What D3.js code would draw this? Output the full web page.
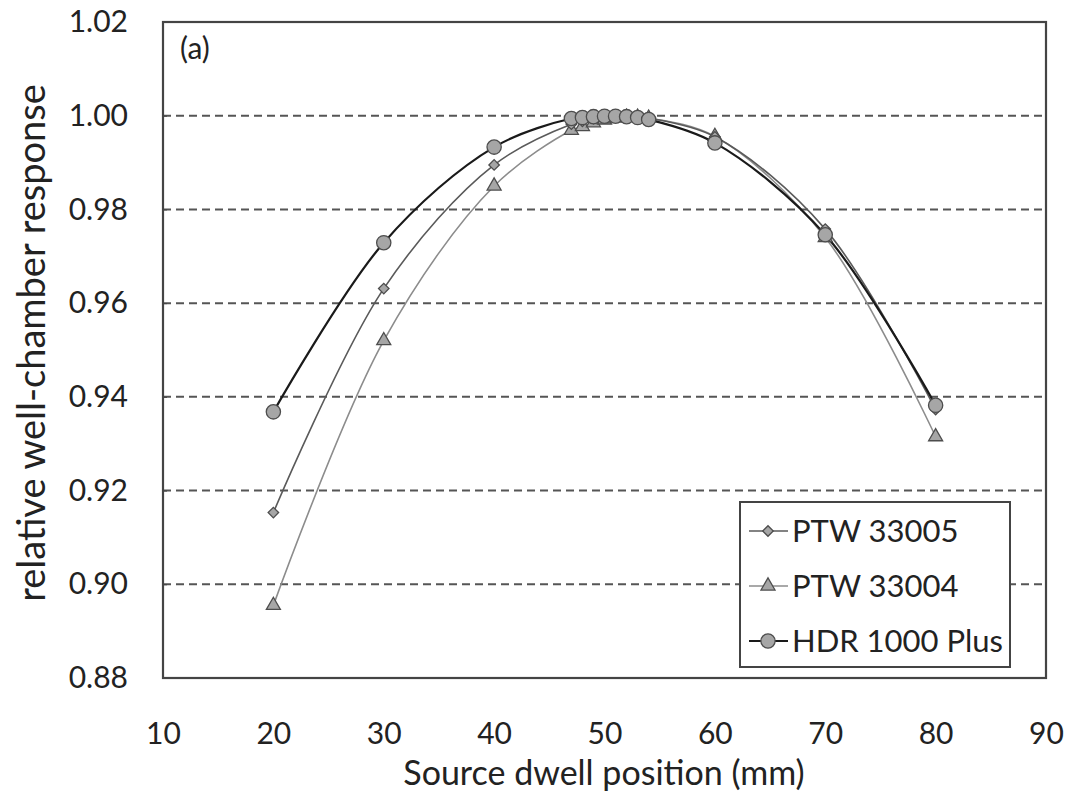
<!DOCTYPE html>
<style>
  body { margin: 0; background: #fff; }
  svg { font-family: "Lato", "Noto Sans", sans-serif; }
</style>
<svg width="1069" height="791"></svg>
<script src="https://d3js.org/d3.v7.min.js"></script>
<script>

var positions = [20, 30, 40, 47, 48, 49, 50, 51, 52, 53, 54, 60, 70, 80];
var ptw33005 = [0.9153, 0.9631, 0.9895, 0.9982, 0.9988, 0.9994, 0.9998, 0.9999, 0.9999, 0.9998, 0.9995, 0.9955, 0.9758, 0.9373];
var ptw33004 = [0.8955, 0.9520, 0.9850, 0.9969, 0.9977, 0.9985, 0.9991, 0.9995, 0.9997, 0.9997, 0.9995, 0.9956, 0.9740, 0.9315];
var hdr1000 = [0.9368, 0.9729, 0.9933, 0.9994, 0.9996, 0.9998, 0.9999, 0.9999, 0.9998, 0.9996, 0.9992, 0.9942, 0.9746, 0.9382];

var xTicks = [10, 20, 30, 40, 50, 60, 70, 80, 90];
var yTicks = [0.88, 0.90, 0.92, 0.94, 0.96, 0.98, 1.00, 1.02];
var gridTicks = [0.90, 0.92, 0.94, 0.96, 0.98, 1.00];

var series = [
  { name: "PTW 33004", values: ptw33004, shape: "triangle", line: "#8c8c8c", width: 1.6 },
  { name: "PTW 33005", values: ptw33005, shape: "diamond", line: "#5a5a5a", width: 1.6 },
  { name: "HDR 1000 Plus", values: hdr1000, shape: "circle", line: "#1a1a1a", width: 2.2 }
];
var legendOrder = ["PTW 33005", "PTW 33004", "HDR 1000 Plus"];

var svg = d3.select("svg");
// "top" is a reserved window property, so use other names
var plotL = 163, plotR = 1046, plotT = 22, plotB = 678;

var x = d3.scaleLinear().domain([10, 90]).range([plotL, plotR]);
var y = d3.scaleLinear().domain([0.88, 1.02]).range([plotB, plotT]);

// dashed grid
svg.append("g")
  .selectAll("line")
  .data(gridTicks).enter()
  .append("line")
  .attr("x1", plotL).attr("x2", plotR)
  .attr("y1", function(d) { return y(d); })
  .attr("y2", function(d) { return y(d); })
  .attr("stroke", "#555")
  .attr("stroke-width", 2)
  .attr("stroke-dasharray", "8,5");

// axes (labels only, frame drawn separately)
var yAxis = svg.append("g")
  .attr("transform", "translate(" + plotL + ",0)")
  .call(d3.axisRight(y).tickValues(yTicks).tickSize(4).tickFormat(d3.format(".2f")));
yAxis.select(".domain").remove();
yAxis.selectAll("line").attr("stroke", "#444");
yAxis.selectAll("text")
  .attr("x", -35).attr("text-anchor", "end")
  .attr("font-size", 30).attr("fill", "#222")
  .attr("font-family", "Lato");

var xAxis = svg.append("g")
  .attr("transform", "translate(0," + plotB + ")")
  .call(d3.axisBottom(x).tickValues(xTicks).tickSize(0).tickFormat(d3.format("d")));
xAxis.select(".domain").remove();
xAxis.selectAll("text")
  .attr("y", 45)
  .attr("font-size", 30).attr("fill", "#222")
  .attr("font-family", "Lato");

// frame
svg.append("rect")
  .attr("x", plotL).attr("y", plotT)
  .attr("width", plotR - plotL).attr("height", plotB - plotT)
  .attr("fill", "none")
  .attr("stroke", "#444")
  .attr("stroke-width", 2.2);

svg.append("text")
  .attr("x", 180).attr("y", 59)
  .attr("font-size", 30).attr("fill", "#222")
  .text("(a)");

// axis titles
svg.append("text")
  .attr("x", 604).attr("y", 785)
  .attr("text-anchor", "middle")
  .attr("font-size", 34).attr("fill", "#222")
  .text("Source dwell position (mm)");

svg.append("text")
  .attr("transform", "translate(45,343) rotate(-90)")
  .attr("text-anchor", "middle")
  .attr("font-size", 38).attr("fill", "#222")
  .text("relative well-chamber response");

var line = d3.line()
  .x(function(d) { return x(d[0]); })
  .y(function(d) { return y(d[1]); })
  .curve(d3.curveCatmullRom.alpha(0.5));

function symbolFor(shape) {
  if (shape === "circle") return d3.symbol().type(d3.symbolCircle).size(160);
  if (shape === "diamond") return d3.symbol().type(d3.symbolSquare).size(55);
  return d3.symbol().type(d3.symbolTriangle).size(85);
}
function rot(shape) { return shape === "diamond" ? " rotate(45)" : ""; }

series.forEach(function(s) {
  var pts = positions.map(function(p, i) { return [p, s.values[i]]; });
  svg.append("path")
    .datum(pts)
    .attr("d", line)
    .attr("fill", "none")
    .attr("stroke", s.line)
    .attr("stroke-width", s.width);
});

series.forEach(function(s) {
  var pts = positions.map(function(p, i) { return [p, s.values[i]]; });
  svg.append("g")
    .selectAll("path")
    .data(pts).enter()
    .append("path")
    .attr("transform", function(d) { return "translate(" + x(d[0]) + "," + y(d[1]) + ")" + rot(s.shape); })
    .attr("d", symbolFor(s.shape))
    .attr("fill", "#a6a6a6")
    .attr("stroke", "#4d4d4d")
    .attr("stroke-width", 1.3);
});

// legend
var lg = svg.append("g");
lg.append("rect")
  .attr("x", 740).attr("y", 502)
  .attr("width", 270).attr("height", 165)
  .attr("fill", "#fff")
  .attr("stroke", "#444")
  .attr("stroke-width", 2);

legendOrder.forEach(function(name, i) {
  var s = series.filter(function(d) { return d.name === name; })[0];
  var cy = 531 + i * 55;
  lg.append("line")
    .attr("x1", 749).attr("x2", 788)
    .attr("y1", cy).attr("y2", cy)
    .attr("stroke", s.line)
    .attr("stroke-width", s.width);
  lg.append("path")
    .attr("transform", "translate(768," + cy + ")" + rot(s.shape))
    .attr("d", symbolFor(s.shape))
    .attr("fill", "#a6a6a6")
    .attr("stroke", "#4d4d4d")
    .attr("stroke-width", 1.3);
  lg.append("text")
    .attr("x", 792).attr("y", cy + 11)
    .attr("font-size", 31).attr("fill", "#222")
    .text(name);
});

</script>
